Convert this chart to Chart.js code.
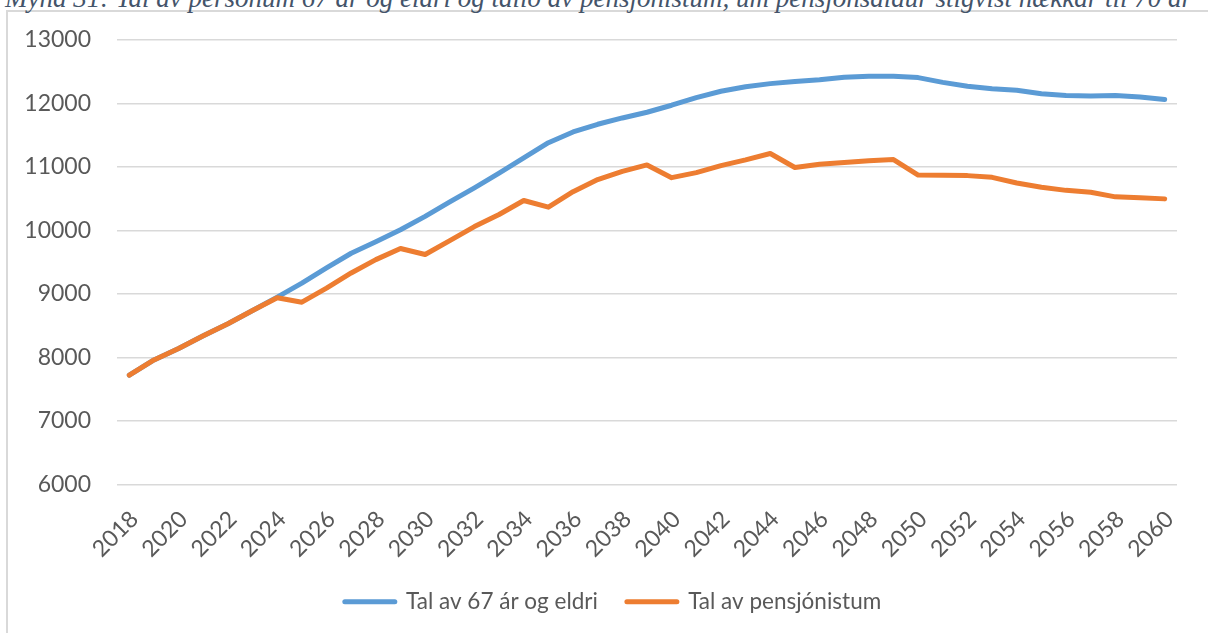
<!DOCTYPE html>
<html><head><meta charset="utf-8">
<script src="https://cdn.jsdelivr.net/npm/chart.js@4.4.1/dist/chart.umd.min.js"></script>
<style>
html,body{margin:0;padding:0;width:1208px;height:633px;overflow:hidden;background:#fff;}
#frame{position:absolute;left:6px;top:10px;width:1300px;height:700px;border:2px solid #d9d9d9;box-sizing:border-box;}
#title{position:absolute;left:5px;top:-15px;font:italic 27px/27px 'Liberation Serif','Times New Roman',serif;color:#44546A;white-space:nowrap;}
#wrap{position:absolute;left:0;top:0;width:1208px;height:633px;}
</style></head>
<body>
<div id="frame"></div>
<div id="title">Mynd 31: Tal av persónum 67 ár og eldri og talið av pensjónistum, um pensjónsaldur stigvíst hækkar til 70 ár</div>
<div id="wrap"><canvas id="c" width="1208" height="633"></canvas></div>
<script>
const years = ['2018','2019','2020','2021','2022','2023','2024','2025','2026','2027','2028','2029','2030','2031','2032','2033','2034','2035','2036','2037','2038','2039','2040','2041','2042','2043','2044','2045','2046','2047','2048','2049','2050','2051','2052','2053','2054','2055','2056','2057','2058','2059','2060'];
const seriesNames = ['Tal av 67 ár og eldri', 'Tal av pensjónistum'];
const eldri = [7720,7960,8140,8340,8530,8740,8950,9170,9410,9640,9820,10010,10220,10450,10670,10900,11140,11380,11550,11670,11770,11860,11970,12090,12190,12260,12310,12345,12370,12410,12425,12425,12405,12330,12270,12230,12205,12150,12125,12115,12125,12100,12060];
const pensjonistar = [7720,7960,8140,8340,8530,8740,8940,8870,9090,9330,9540,9715,9620,9840,10060,10250,10470,10365,10610,10800,10930,11030,10830,10910,11020,11110,11210,10990,11040,11070,11095,11115,10870,10868,10862,10835,10745,10680,10630,10600,10528,10512,10496];
const yMin = 6000, yMax = 13000, yStep = 1000;

const FONT = "Lato, 'Noto Sans', sans-serif";
const TXT = '#595959';
const LINE_W = 5;

// keep the rotated x labels and the y labels from being clipped to their boxes
const unclip = {
  id: 'unclip',
  afterLayout(chart) {
    chart.scales.x.bottom = chart.height;
    chart.scales.y.left = 0;
  }
};

new Chart(document.getElementById('c'), {
  type: 'line',
  data: {
    labels: years,
    datasets: [
      { label: seriesNames[0], data: eldri, borderColor: '#5B9BD5', backgroundColor: '#5B9BD5', order: 2 },
      { label: seriesNames[1], data: pensjonistar, borderColor: '#ED7D31', backgroundColor: '#ED7D31', order: 1 }
    ]
  },
  plugins: [unclip],
  options: {
    responsive: false,
    animation: false,
    devicePixelRatio: 1,
    elements: {
      line: { borderWidth: LINE_W, tension: 0, borderCapStyle: 'round', borderJoinStyle: 'round', fill: false },
      point: { radius: 0, hoverRadius: 0 }
    },
    layout: { padding: { left: 49, right: 31, top: 38, bottom: 10 } },
    plugins: {
      tooltip: { enabled: false },
      title: { display: false },
      legend: {
        position: 'bottom',
        labels: {
          usePointStyle: true, pointStyle: 'line', pointStyleWidth: 50,
          padding: 29, color: TXT,
          font: { family: FONT, size: 22.5 },
          sort: (a, b) => a.datasetIndex - b.datasetIndex,
          generateLabels: (chart) => chart.data.datasets.map((ds, i) => ({
            text: ds.label, datasetIndex: i,
            fillStyle: ds.borderColor, strokeStyle: ds.borderColor,
            lineWidth: LINE_W, lineCap: 'round', pointStyle: 'line',
            fontColor: TXT, hidden: false
          }))
        }
      }
    },
    scales: {
      x: {
        type: 'category',
        offset: true,
        grid: { display: false, drawTicks: false },
        border: { display: false },
        ticks: {
          autoSkip: false, minRotation: 45, maxRotation: 45, padding: 21, labelOffset: 5,
          color: TXT, font: { family: FONT, size: 23 },
          callback: function(v, i) { return i % 2 === 0 ? this.getLabelForValue(v) : ''; }
        },
        afterFit: s => { s.height = 77; s.paddingLeft = 0; s.paddingRight = 0; }
      },
      y: {
        min: yMin, max: yMax,
        grid: { color: '#d9d9d9', lineWidth: 1.5, drawTicks: false },
        border: { display: false },
        ticks: { stepSize: yStep, padding: 26, color: TXT, font: { family: FONT, size: 23 },
          callback: v => String(v) },
        afterFit: s => { s.width = 68; }
      }
    }
  }
});
</script>
</body></html>
